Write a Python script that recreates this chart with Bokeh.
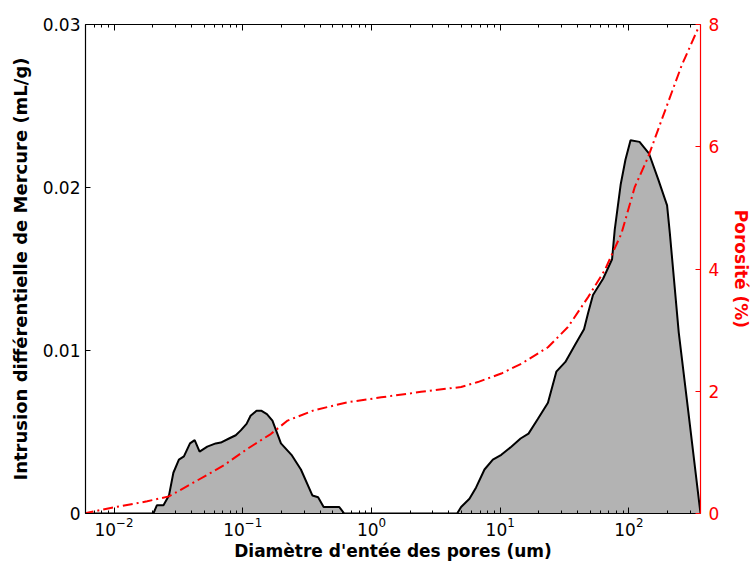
from bokeh.plotting import figure
from bokeh.models import (Range1d, LinearAxis, LogAxis, FixedTicker, LogTicker,
                          CustomJSTickFormatter, LogTickFormatter)
from bokeh.embed import file_html
from bokeh.resources import INLINE

# Differential intrusion (mL/g) vs pore entry diameter (um)
diam_um = [0.0060, 0.0202, 0.0215, 0.0242, 0.0267, 0.0289, 0.0319, 0.0349, 0.0389, 0.0423,
           0.0462, 0.053, 0.0616, 0.0675, 0.0782, 0.0882, 0.0965, 0.107, 0.115, 0.128,
           0.14, 0.154, 0.170, 0.198, 0.239, 0.283, 0.348, 0.385, 0.425, 0.562,
           0.614, 4.63, 4.97, 5.77, 6.5, 7.55, 8.77, 10.2, 12.2, 14.4,
           16.6, 19.6, 23.5, 27.3, 32.1, 37.9, 44.8, 48.2, 52.6, 63,
           74, 77.6, 86.4, 94, 103, 121, 143, 169, 198, 208,
           244, 289, 360]
intrusion = [0, 0, 0.0005, 0.0005, 0.0011, 0.0025, 0.0033, 0.0035, 0.0043, 0.0045,
             0.0038, 0.0041, 0.0043, 0.00435, 0.0046, 0.0048, 0.0051, 0.0055, 0.006, 0.0063,
             0.0063, 0.0061, 0.0057, 0.0043, 0.0036, 0.0027, 0.0011, 0.001, 0.0004, 0.0004,
             0, 0, 0.0004, 0.0009, 0.0016, 0.0027, 0.0033, 0.0036, 0.0041, 0.0046,
             0.0049, 0.0058, 0.0068, 0.0087, 0.0093, 0.0103, 0.0113, 0.0123, 0.0134, 0.0144,
             0.0156, 0.0174, 0.0202, 0.0217, 0.0229, 0.0228, 0.0221, 0.0205, 0.0189, 0.0172,
             0.0111, 0.0063, 0]

# Cumulative porosity (%)
por_diam = [0.0058, 0.01, 0.0181, 0.0267, 0.0443, 0.0714, 0.109, 0.165, 0.223, 0.359,
            0.653, 1.19, 2.43, 4.97, 6.7, 10.2, 14.6, 23.5, 33.6, 48.2,
            64.9, 87.5, 111, 141, 179, 257, 347]
porosity = [0.0, 0.1, 0.2, 0.28, 0.54, 0.79, 1.06, 1.30, 1.52, 1.69,
            1.82, 1.90, 1.99, 2.07, 2.15, 2.29, 2.45, 2.72, 3.05, 3.54,
            3.98, 4.58, 5.34, 5.83, 6.43, 7.33, 7.95]

left_ticks = [0, 0.01, 0.02, 0.03]
right_ticks = [0, 2, 4, 6, 8]

FONT = "DejaVu Sans"

p = figure(width=755, height=565, x_axis_type="log",
           x_range=Range1d(0.006, 360), y_range=Range1d(0, 0.03),
           output_backend="svg", toolbar_location=None,
           min_border_left=85, min_border_right=55, min_border_top=24, min_border_bottom=52)
p.extra_y_ranges = {"por": Range1d(0, 8)}
p.xgrid.visible = False
p.ygrid.visible = False
p.outline_line_color = None
p.background_fill_color = "white"

p.varea(x=diam_um, y1=0, y2=intrusion, fill_color="#b3b3b3")
p.line(diam_um, intrusion, line_color="black", line_width=2)
p.line(por_diam, porosity, line_color="red", line_width=2, line_dash="10 4 2 4",
       y_range_name="por")

xa = p.xaxis[0]
xa.ticker = LogTicker(num_minor_ticks=10)
xa.formatter = LogTickFormatter()
xa.axis_label = "Diamètre d'entée des pores (um)"
xa.axis_label_text_font = FONT
xa.axis_label_text_font_style = "bold"
xa.axis_label_text_font_size = "17px"
xa.axis_label_text_color = "black"
xa.axis_label_standoff = 2
xa.major_label_text_font = FONT
xa.major_label_text_font_size = "17px"
xa.major_label_text_color = "black"
xa.major_label_standoff = 3
xa.major_tick_in = 6
xa.major_tick_out = 0
xa.minor_tick_in = 3
xa.minor_tick_out = 0
xa.axis_line_color = "black"
xa.axis_line_width = 1.2

top = LogAxis(ticker=LogTicker(num_minor_ticks=10),
              formatter=CustomJSTickFormatter(code="return '';"),
              major_label_text_font_size="1px", major_label_text_alpha=0,
              major_label_standoff=0, major_tick_in=6, major_tick_out=0,
              minor_tick_in=3, minor_tick_out=0, axis_line_width=1.2)
p.add_layout(top, "above")

ya = p.yaxis[0]
ya.ticker = FixedTicker(ticks=left_ticks)
ya.formatter = CustomJSTickFormatter(code="return tick == 0 ? '0' : tick.toFixed(2);")
ya.axis_label = "Intrusion différentielle de Mercure (mL/g)"
ya.axis_label_text_font = FONT
ya.axis_label_text_font_style = "bold"
ya.axis_label_text_font_size = "18px"
ya.axis_label_text_color = "black"
ya.axis_label_standoff = 9
ya.major_label_text_font = FONT
ya.major_label_text_font_size = "17px"
ya.major_label_text_color = "black"
ya.major_label_standoff = 5
ya.major_tick_in = 5
ya.major_tick_out = 0
ya.minor_tick_line_color = None
ya.axis_line_width = 1.2

ra = LinearAxis(y_range_name="por", ticker=FixedTicker(ticks=right_ticks),
                axis_label="Porosité (%)", axis_label_text_font=FONT,
                axis_label_text_font_style="bold", axis_label_text_font_size="17px",
                axis_label_text_color="red", axis_label_standoff=9,
                axis_label_orientation="vertical",
                major_label_text_font=FONT, major_label_text_font_size="17px",
                major_label_text_color="red", major_label_standoff=8,
                major_tick_in=5, major_tick_out=0, major_tick_line_color="red",
                minor_tick_line_color=None, axis_line_color="red", axis_line_width=1.2)
p.add_layout(ra, "right")

open("out.html", "w").write(file_html(p, INLINE))
